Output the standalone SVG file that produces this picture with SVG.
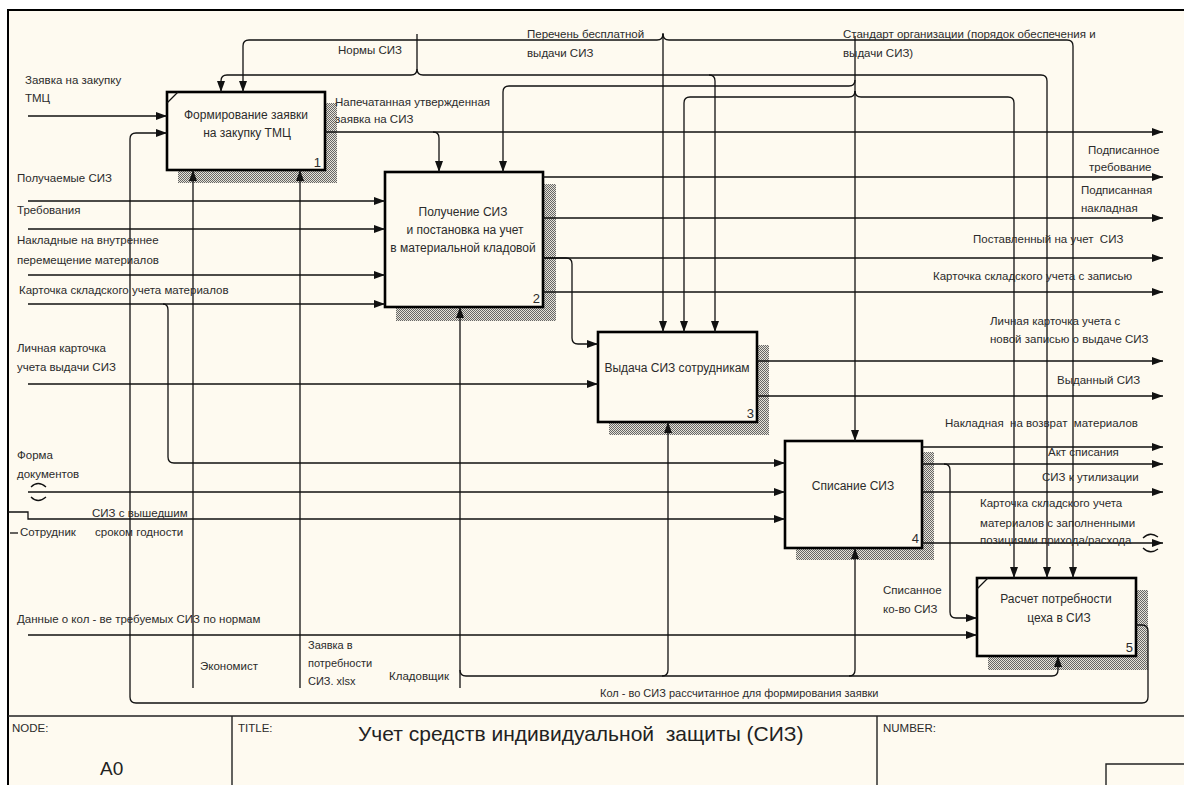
<svg xmlns="http://www.w3.org/2000/svg" width="1184" height="785" viewBox="0 0 1184 785">
  <defs>
    <style>
      .ln{fill:none;stroke:#111;stroke-width:1.3}
      .ar{marker-end:url(#ah)}
      .box{fill:#fefaf0;stroke:#000;stroke-width:2.6}
      .sh{fill:url(#hatch)}
      .t{font-family:"Liberation Sans",Arial,sans-serif;font-size:11.5px;fill:#2b2b2b;white-space:pre}
      .s{font-size:11px}
      .bt{font-family:"Liberation Sans",Arial,sans-serif;font-size:12px;fill:#2b2b2b;text-anchor:middle}
      .num{font-family:"Liberation Sans",Arial,sans-serif;font-size:13px;fill:#2b2b2b;text-anchor:end}
      .frm{fill:none;stroke:#000;stroke-width:2}
      .tb{fill:none;stroke:#222;stroke-width:1.4}
    </style>
    <pattern id="hatch" patternUnits="userSpaceOnUse" width="2" height="2">
      <rect width="2" height="2" fill="#e6e2d8"/>
      <rect width="1" height="1" fill="#666"/>
      <rect x="1" y="1" width="1" height="1" fill="#666"/>
    </pattern>
    <marker id="ah" markerWidth="11" markerHeight="8" refX="11" refY="4" orient="auto" markerUnits="userSpaceOnUse">
      <path d="M0,0 L11,4 L0,8 Z" fill="#111"/>
    </marker>
  </defs>

  <!-- sheet -->
  <rect width="1184" height="785" fill="#fff"/>
  <rect x="8" y="10" width="1176" height="775" fill="#fefaf0"/>
  <path class="frm" d="M8,785 V10 H1184"/>

  <!-- activity boxes -->
  <g id="node-a1">
    <rect class="sh" x="178" y="103" width="159" height="80"/>
    <rect class="box" x="167" y="92" width="158" height="78"/>
    <path class="ln" d="M167,103 L178,92"/>
    <text class="bt" x="246" y="119">Формирование заявки</text>
    <text class="bt" x="247" y="137">на закупку ТМЦ</text>
    <text class="num" x="321" y="167">1</text>
  </g>
  <g id="node-a2">
    <rect class="sh" x="396" y="184" width="160" height="137"/>
    <rect class="box" x="385" y="172" width="158" height="135"/>
    <text class="bt" x="463" y="216">Получение СИЗ</text>
    <text class="bt" x="465" y="234">и постановка на учет</text>
    <text class="bt" x="463" y="252">в материальной кладовой</text>
    <text class="num" x="540" y="303">2</text>
  </g>
  <g id="node-a3">
    <rect class="sh" x="609" y="345" width="160" height="90"/>
    <rect class="box" x="598" y="332" width="159" height="90"/>
    <text class="bt" x="677" y="372">Выдача СИЗ сотрудникам</text>
    <text class="num" x="754" y="418">3</text>
  </g>
  <g id="node-a4">
    <rect class="sh" x="796" y="452" width="138" height="108"/>
    <rect class="box" x="785" y="441" width="137" height="107"/>
    <text class="bt" x="853" y="490">Списание СИЗ</text>
    <text class="num" x="919" y="543">4</text>
  </g>
  <g id="node-a5">
    <rect class="sh" x="988" y="590" width="160" height="80"/>
    <rect class="box" x="977" y="578" width="159" height="78"/>
    <path class="ln" d="M977,589 L988,578"/>
    <text class="bt" x="1056" y="603">Расчет потребности</text>
    <text class="bt" x="1059" y="622">цеха в СИЗ</text>
    <text class="num" x="1133" y="652">5</text>
  </g>

  <!-- arrows between activities and sheet edges -->
  <g id="connectors">
    <!-- inputs from the left -->
    <path class="ln ar" d="M28,116 H167"/>
    <path class="ln ar" d="M1136,625 H1142 Q1148,625 1148,631 V697 Q1148,703 1142,703 H136 Q130,703 130,697 V139 Q130,133 136,133 H167"/>
    <path class="ln ar" d="M28,201 H385"/>
    <path class="ln ar" d="M28,229 H385"/>
    <path class="ln ar" d="M28,275 H385"/>
    <path class="ln ar" d="M28,304 H385"/>
    <path class="ln ar" d="M163,304 Q168,304 168,310 V457 Q168,463 174,463 H785"/>
    <path class="ln ar" d="M28,384 H598"/>
    <path class="ln ar" d="M28,492 H785"/>
    <path class="ln" d="M31,487 Q38,480 46,487 M31,497 Q38,504 46,497"/>
    <path class="ln ar" d="M8,512 H28 V519 H785"/>
    <path class="ln" d="M10,533 H18"/>
    <path class="ln ar" d="M28,635 H977"/>

    <!-- A2 output into A3 -->
    <path class="ln ar" d="M543,258 H566 Q572,258 572,264 V338 Q572,344 578,344 H598"/>

    <!-- outputs to the right -->
    <path class="ln ar" d="M325,132 H1163"/>
    <path class="ln ar" d="M433,132 Q439,132 439,138 V172"/>
    <path class="ln ar" d="M543,177 H1163"/>
    <path class="ln ar" d="M543,218 H1163"/>
    <path class="ln ar" d="M543,258 H1163"/>
    <path class="ln ar" d="M543,292 H1163"/>
    <path class="ln ar" d="M757,361 H1163"/>
    <path class="ln ar" d="M757,396 H1163"/>
    <path class="ln ar" d="M922,447 H1163"/>
    <path class="ln ar" d="M922,464 H1163"/>
    <path class="ln ar" d="M922,492 H1163"/>
    <path class="ln ar" d="M922,543 H1163"/>
    <path class="ln" d="M1143,538 Q1150,531 1158,537 M1143,548 Q1150,555 1158,549"/>
    <path class="ln ar" d="M944,464 Q950,464 950,470 V612 Q950,618 956,618 H977"/>

    <!-- controls from the top -->
    <path class="ln ar" d="M417,34 V69 Q417,75 411,75 H227 Q221,75 221,81 V92"/>
    <path class="ln ar" d="M417,69 Q417,75 423,75 H709 Q715,75 715,81 V332"/>
    <path class="ln ar" d="M709,75 H1041 Q1047,75 1047,81 V578"/>
    <path class="ln ar" d="M663,33 V332"/>
    <path class="ln ar" d="M663,34 Q663,40 657,40 H249 Q243,40 243,46 V92"/>
    <path class="ln ar" d="M663,34 Q663,40 669,40 H1067 Q1073,40 1073,46 V578"/>
    <path class="ln ar" d="M855,36 V441"/>
    <path class="ln ar" d="M855,80 Q855,86 849,86 H509 Q503,86 503,92 V172"/>
    <path class="ln ar" d="M855,91 Q855,97 849,97 H690 Q684,97 684,103 V332"/>
    <path class="ln ar" d="M855,91 Q855,97 861,97 H1008 Q1014,97 1014,103 V578"/>

    <!-- mechanisms from the bottom -->
    <path class="ln ar" d="M193,688 V170"/>
    <path class="ln ar" d="M300,688 V170"/>
    <path class="ln ar" d="M460,688 V307"/>
    <path class="ln ar" d="M460,670 Q460,676 466,676 H662 Q668,676 668,670 V422"/>
    <path class="ln ar" d="M662,676 H849 Q855,676 855,670 V548"/>
    <path class="ln ar" d="M849,676 H1052 Q1058,676 1058,670 V656"/>
  </g>

  <!-- arrow labels -->
  <g id="labels">
    <text class="t" x="25" y="84">Заявка на закупку</text>
    <text class="t" x="25" y="102">ТМЦ</text>
    <text class="t" x="17" y="182">Получаемые СИЗ</text>
    <text class="t" x="17" y="214">Требования</text>
    <text class="t" x="17" y="244">Накладные на внутреннее</text>
    <text class="t" x="17" y="264">перемещение материалов</text>
    <text class="t" x="19" y="294">Карточка складского учета материалов</text>
    <text class="t" x="17" y="352">Личная карточка</text>
    <text class="t" x="17" y="371">учета выдачи СИЗ</text>
    <text class="t" x="17" y="459">Форма</text>
    <text class="t" x="17" y="478">документов</text>
    <text class="t" x="92" y="517">СИЗ с вышедшим</text>
    <text class="t" x="95" y="536">сроком годности</text>
    <text class="t" x="20" y="536">Сотрудник</text>
    <text class="t" x="17" y="623">Данные о кол - ве требуемых СИЗ по нормам</text>
    <text class="t" x="200" y="670">Экономист</text>
    <text class="t s" x="308" y="649">Заявка в</text>
    <text class="t s" x="308" y="667">потребности</text>
    <text class="t s" x="308" y="685">СИЗ. xlsx</text>
    <text class="t" x="389" y="680">Кладовщик</text>
    <text class="t s" x="600" y="697">Кол - во СИЗ рассчитанное для формирования заявки</text>

    <text class="t" x="338" y="54">Нормы СИЗ</text>
    <text class="t" x="335" y="106">Напечатанная утвержденная</text>
    <text class="t" x="335" y="123">заявка на СИЗ</text>
    <text class="t" x="527" y="38">Перечень бесплатной</text>
    <text class="t" x="527" y="57">выдачи СИЗ</text>
    <text class="t" x="843" y="38">Стандарт организации (порядок обеспечения и</text>
    <text class="t" x="843" y="57">выдачи СИЗ)</text>

    <text class="t" x="1088" y="154">Подписанное</text>
    <text class="t" x="1089" y="171">требование</text>
    <text class="t" x="1081" y="194">Подписанная</text>
    <text class="t" x="1081" y="212">накладная</text>
    <text class="t" x="973" y="243">Поставленный на учет  СИЗ</text>
    <text class="t" x="933" y="280">Карточка складского учета с записью</text>
    <text class="t" x="990" y="325">Личная карточка учета с</text>
    <text class="t" x="990" y="343">новой записью о выдаче СИЗ</text>
    <text class="t" x="1057" y="384">Выданный СИЗ</text>
    <text class="t" x="945" y="427">Накладная  на возврат  материалов</text>
    <text class="t" x="1048" y="456">Акт списания</text>
    <text class="t" x="1042" y="481">СИЗ к утилизации</text>
    <text class="t" x="980" y="507">Карточка складского учета</text>
    <text class="t" x="980" y="527">материалов с заполненными</text>
    <text class="t" x="980" y="544">позициями прихода/расхода</text>
    <text class="t" x="883" y="594">Списанное</text>
    <text class="t" x="883" y="613">ко-во СИЗ</text>
  </g>

  <!-- title block -->
  <g id="title-block">
    <path class="tb" d="M8,716 H1184 M232,716 V785 M877,716 V785 M1106,785 V764 H1184"/>
    <text class="t" x="12" y="732">NODE:</text>
    <text x="100" y="775" style="font-family:'Liberation Sans',Arial,sans-serif;font-size:19px;fill:#222">A0</text>
    <text class="t" x="238" y="732">TITLE:</text>
    <text x="358" y="741" style="font-family:'Liberation Sans',Arial,sans-serif;font-size:21px;fill:#222;white-space:pre">Учет средств индивидуальной  защиты (СИЗ)</text>
    <text class="t" x="883" y="732">NUMBER:</text>
  </g>
</svg>
